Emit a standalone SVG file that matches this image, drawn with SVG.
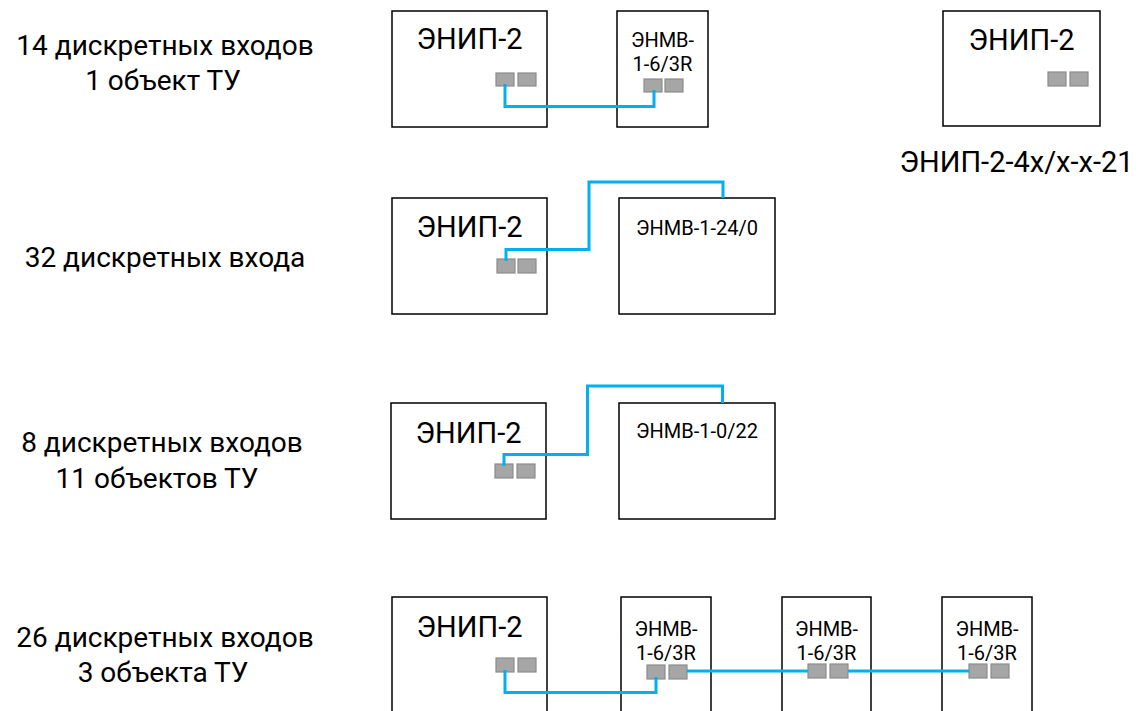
<svg xmlns="http://www.w3.org/2000/svg" width="1146" height="711" viewBox="0 0 1146 711">
<style>
.box{fill:#fff;stroke:#000;stroke-width:1.5}
.port{fill:#a6a6a6;stroke:#8c8c8c;stroke-width:1.2}
.wire{fill:none;stroke:#00b0f0;stroke-width:3;stroke-linejoin:miter}
text{font-family:Roboto,"Open Sans","DejaVu Sans",sans-serif;fill:#000;text-anchor:middle}
.big{font-size:29px}
.lbl{font-size:28px}
.sm{font-size:20px}
</style>
<rect width="1146" height="711" fill="#fff"/>

<g id="labels">
<text class="lbl" x="165" y="55">14 дискретных входов<tspan x="163" dy="35">1 объект ТУ</tspan></text>
<text class="lbl" x="165" y="267">32 дискретных входа</text>
<text class="lbl" x="162" y="452">8 дискретных входов<tspan x="157" dy="36">11 объектов ТУ</tspan></text>
<text class="lbl" x="165" y="647">26 дискретных входов<tspan x="163" dy="35">3 объекта ТУ</tspan></text>
</g>

<g id="enip-r1">
<rect class="box" x="392" y="11" width="155" height="116"/>
<text class="big" x="469.5" y="49">ЭНИП-2</text>
<rect class="port" x="496" y="73" width="18" height="13"/>
<rect class="port" x="518" y="73" width="18" height="13"/>
</g>
<g id="enmv-r1">
<rect class="box" x="617" y="11" width="91" height="116"/>
<text class="sm" x="662.5" y="47">ЭНМВ-<tspan x="662.5" dy="24">1-6/3R</tspan></text>
<rect class="port" x="644" y="79" width="18" height="13"/>
<rect class="port" x="665" y="79" width="18" height="13"/>
</g>

<g id="enip-single">
<rect class="box" x="943" y="11" width="157" height="115"/>
<text class="big" x="1021.5" y="50">ЭНИП-2</text>
<rect class="port" x="1048" y="72" width="18" height="14"/>
<rect class="port" x="1070" y="72" width="18" height="14"/>
<text class="big" x="1016.5" y="172">ЭНИП-2-4x/x-x-21</text>
</g>

<g id="enip-r2">
<rect class="box" x="392" y="198" width="155" height="116"/>
<text class="big" x="469.5" y="237">ЭНИП-2</text>
<rect class="port" x="497" y="259" width="18" height="14"/>
<rect class="port" x="518" y="259" width="18" height="14"/>
</g>
<g id="enmv-r2">
<rect class="box" x="619" y="198" width="156" height="116"/>
<text class="sm" x="697" y="235">ЭНМВ-1-24/0</text>
</g>

<g id="enip-r3">
<rect class="box" x="391" y="403" width="155" height="116"/>
<text class="big" x="468.5" y="443">ЭНИП-2</text>
<rect class="port" x="495" y="464" width="18" height="14"/>
<rect class="port" x="517" y="464" width="18" height="14"/>
</g>
<g id="enmv-r3">
<rect class="box" x="619" y="403" width="156" height="116"/>
<text class="sm" x="697" y="438">ЭНМВ-1-0/22</text>
</g>

<g id="enip-r4">
<rect class="box" x="392" y="597" width="155" height="130"/>
<text class="big" x="469.5" y="637">ЭНИП-2</text>
<rect class="port" x="496" y="658" width="18" height="14"/>
<rect class="port" x="518" y="658" width="18" height="14"/>
</g>
<g id="enmv-r4a">
<rect class="box" x="621" y="597" width="90" height="130"/>
<text class="sm" x="666" y="636">ЭНМВ-<tspan x="666" dy="24">1-6/3R</tspan></text>
<rect class="port" x="647" y="665" width="18" height="14"/>
<rect class="port" x="669" y="665" width="18" height="14"/>
</g>
<g id="enmv-r4b">
<rect class="box" x="782" y="597" width="89" height="130"/>
<text class="sm" x="826.5" y="636">ЭНМВ-<tspan x="826.5" dy="24">1-6/3R</tspan></text>
<rect class="port" x="808" y="664" width="18" height="14"/>
<rect class="port" x="830" y="664" width="18" height="14"/>
</g>
<g id="enmv-r4c">
<rect class="box" x="942" y="597" width="90" height="130"/>
<text class="sm" x="987" y="636">ЭНМВ-<tspan x="987" dy="24">1-6/3R</tspan></text>
<rect class="port" x="969" y="664" width="18" height="14"/>
<rect class="port" x="991" y="664" width="18" height="14"/>
</g>

<g id="connectors">
<path class="wire" d="M505,84 V106.5 H654 V90"/>
<path class="wire" d="M506,261 V249.5 H589 V182 H723 V198"/>
<path class="wire" d="M504,466 V454.5 H587.5 V386 H722.5 V403"/>
<path class="wire" d="M505,670 V692.5 H656 V677"/>
<path class="wire" d="M687,671 H808"/>
<path class="wire" d="M848,671 H969"/>
</g>
</svg>
